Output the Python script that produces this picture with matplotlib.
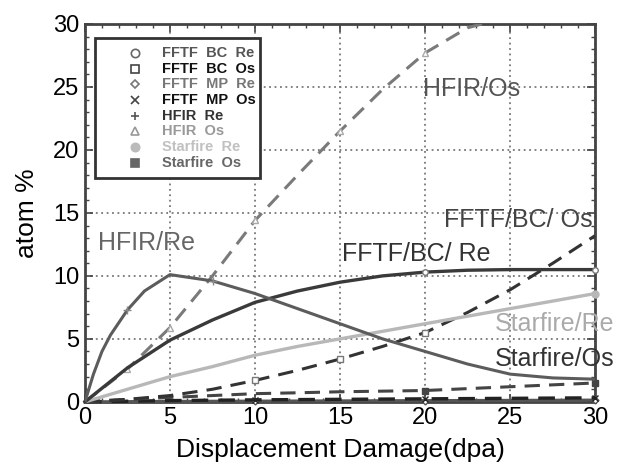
import numpy as np
import matplotlib
matplotlib.use("Agg")
import matplotlib.pyplot as plt
from matplotlib.patches import Rectangle
from matplotlib.ticker import MultipleLocator

plt.rcParams['font.family'] = ['Liberation Sans', 'DejaVu Sans']

# dpa grid used by most curves
dpa = [0, 2.5, 5, 7.5, 10, 12.5, 15, 17.5, 20, 22.5, 25, 27.5, 30]

# HFIR Re rises fast, so it has extra points near zero
dpa_hfir_re = [0, 0.5, 1, 1.5, 2.5, 3.5, 5, 7.5, 10, 12.5, 15, 17.5, 20, 22.5, 25, 27.5, 30]
hfir_re = [0, 2.2, 4.0, 5.3, 7.3, 8.8, 10.1, 9.6, 8.6, 7.4, 6.2, 5.0, 4.0, 3.0, 2.2, 1.9, 1.8]

hfir_os = [0, 2.6, 5.9, 10.0, 14.4, 18.0, 21.5, 24.8, 27.7, 29.7, 30.6, 31.0, 31.2]
fftf_bc_re = [0, 2.7, 4.9, 6.5, 7.9, 8.8, 9.5, 10.0, 10.3, 10.45, 10.5, 10.5, 10.5]
fftf_bc_os = [0, 0.2, 0.5, 1.0, 1.7, 2.5, 3.4, 4.4, 5.5, 7.1, 8.9, 11.0, 13.2]
starfire_re = [0, 1.0, 2.0, 2.8, 3.7, 4.4, 5.0, 5.6, 6.2, 6.8, 7.4, 8.0, 8.6]
starfire_os = [0, 0.2, 0.35, 0.5, 0.65, 0.72, 0.8, 0.85, 0.9, 1.05, 1.2, 1.35, 1.5]
fftf_mp_re = [0, 0.02, 0.04, 0.05, 0.06, 0.07, 0.08, 0.09, 0.1, 0.11, 0.12, 0.13, 0.14]
fftf_mp_os = [0, 0.05, 0.1, 0.13, 0.16, 0.18, 0.2, 0.22, 0.24, 0.26, 0.28, 0.3, 0.32]

legend_labels = ['FFTF  BC  Re', 'FFTF  BC  Os', 'FFTF  MP  Re', 'FFTF  MP  Os',
                 'HFIR  Re', 'HFIR  Os', 'Starfire  Re', 'Starfire  Os']

fig = plt.figure(figsize=(6.2, 4.7), dpi=100)
ax = fig.add_axes([0.137, 0.145, 0.823, 0.804])

dash = (0, (5, 3))
ax.plot(dpa, fftf_mp_re, color='#555555', lw=2.2, marker='D', ms=3.5, mfc='white', markevery=[4, 8, 12], clip_on=False, zorder=3)
ax.plot(dpa, fftf_mp_os, color='#222222', lw=2.4, ls=dash, marker='x', ms=4, markevery=[4, 8, 12], clip_on=False, zorder=3)
ax.plot(dpa, starfire_os, color='#444444', lw=2.2, ls=dash, marker='s', ms=5, markevery=[8, 12], clip_on=False, zorder=3)
ax.plot(dpa, fftf_bc_os, color='#333333', lw=2.2, ls=dash, marker='s', ms=5, mfc='white', mec='#777777', markevery=[4, 6, 8], zorder=3)
ax.plot(dpa, starfire_re, color='#b8b8b8', lw=2.4, marker='o', ms=5, markevery=[12], clip_on=False, zorder=3)
ax.plot(dpa, hfir_os, color='#7a7a7a', lw=2.2, ls=dash, marker='^', ms=5, mfc='white', mec='#aaaaaa', markevery=[1, 2, 4, 6, 8], zorder=3)
ax.plot(dpa, fftf_bc_re, color='#3a3a3a', lw=2.4, marker='o', ms=4, mfc='white', mec='#777777', markevery=[8, 12], clip_on=False, zorder=4)
ax.plot(dpa_hfir_re, hfir_re, color='#5c5c5c', lw=2.2, marker='+', ms=6, mec='#888888', markevery=[4, 7], zorder=4)

ax.set_xlim(0, 30)
ax.set_ylim(0, 30)
ax.xaxis.set_major_locator(MultipleLocator(5))
ax.yaxis.set_major_locator(MultipleLocator(5))
ax.xaxis.set_minor_locator(MultipleLocator(1))
ax.yaxis.set_minor_locator(MultipleLocator(1))
ax.tick_params(which='both', direction='in', top=True, right=True, color='#444444')
ax.tick_params(which='major', length=6, width=1.2, labelsize=17, pad=4)
ax.tick_params(which='minor', length=3, width=1)
ax.grid(True, which='major', ls=(0, (1, 2)), color='#777777', lw=1.3)
for s in ax.spines.values():
    s.set_linewidth(2)
    s.set_color('#444444')

ax.set_xlabel('Displacement Damage(dpa)', fontsize=19, labelpad=6)
ax.set_ylabel('atom %', fontsize=19, labelpad=10)

# curve labels
ax.text(19.9, 24.8, 'HFIR/Os', fontsize=18, color='#555555', va='center')
ax.text(0.75, 12.6, 'HFIR/Re', fontsize=18, color='#666666', va='center')
ax.text(21.1, 14.4, 'FFTF/BC/ Os', fontsize=18, color='#444444', va='center', clip_on=False)
ax.text(15.1, 11.7, 'FFTF/BC/ Re', fontsize=18, color='#333333', va='center')
ax.text(24.1, 6.2, 'Starfire/Re', fontsize=18, color='#aaaaaa', va='center', clip_on=False)
ax.text(24.1, 3.4, 'Starfire/Os', fontsize=18, color='#333333', va='center', clip_on=False)

# marker key in the upper left corner
key_markers = [('o', '#666666', 'white'), ('s', '#444444', 'white'), ('D', '#777777', 'white'),
               ('x', '#444444', '#444444'), ('+', '#555555', '#555555'), ('^', '#999999', 'white'),
               ('o', '#bbbbbb', '#bbbbbb'), ('s', '#666666', '#666666')]
key_text_colors = ['#555555', '#111111', '#777777', '#111111', '#333333', '#999999', '#c0c0c0', '#666666']
ax.add_patch(Rectangle((0.0196, 0.593), 0.323, 0.370, transform=ax.transAxes,
                       facecolor='white', edgecolor='#333333', lw=2, zorder=5))
for i, lab in enumerate(legend_labels):
    y = 0.923 - i * 0.0415
    m, ec, fc = key_markers[i]
    ms = 4 if m == 'D' else 6
    ax.plot([0.098], [y], marker=m, ms=ms, mec=ec, mfc=fc, mew=1.2, ls='none',
            transform=ax.transAxes, zorder=6)
    ax.text(0.151, y, lab, fontsize=10.5, fontweight='bold', color=key_text_colors[i],
            va='center', transform=ax.transAxes, zorder=6)

fig.savefig('out.png', dpi=100)
